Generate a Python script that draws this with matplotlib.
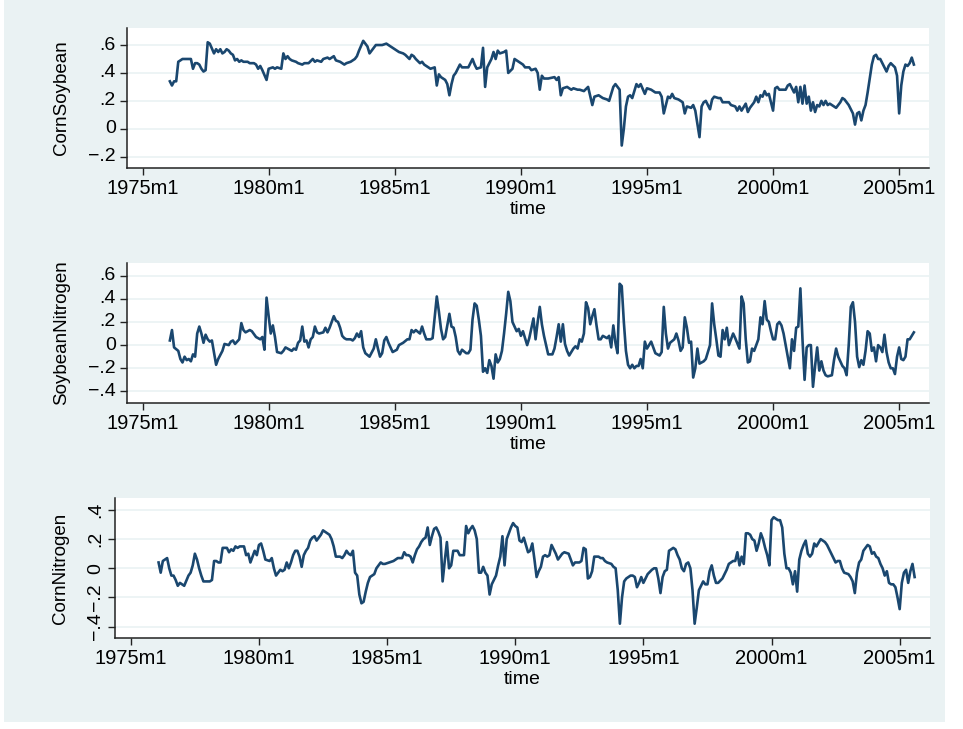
import matplotlib
matplotlib.use("Agg")
import matplotlib.pyplot as plt
from matplotlib.patches import Rectangle

# monthly observations, time counted in months from 1975m1
cs_t = [13, 14, 15, 16, 17, 19, 21, 23, 24, 25, 26, 27, 28, 29, 30, 31, 32, 34, 35, 36, 37, 38, 39, 40,
        41, 42, 43, 44, 45, 46, 47, 48, 50, 51, 53, 54, 55, 56, 57, 59, 60, 62, 63, 64, 66, 67, 68, 69,
        70, 71, 73, 74, 76, 77, 79, 81, 82, 83, 85, 86, 88, 89, 91, 92, 94, 96, 97, 99, 101, 102, 103,
        105, 106, 107, 108, 109, 111, 112, 114, 116, 118, 120, 122, 124, 125, 127, 128, 129, 130, 132,
        133, 134, 136, 137, 139, 140, 141, 142, 144, 145, 146, 147, 148, 149, 151, 152, 154, 155, 157,
        158, 159, 161, 162, 163, 164, 165, 166, 167, 168, 169, 170, 172, 173, 174, 176, 177, 178, 180,
        181, 182, 184, 185, 187, 188, 189, 190, 191, 193, 196, 197, 198, 199, 200, 202, 204, 205, 207,
        208, 210, 212, 214, 215, 217, 219, 221, 222, 223, 224, 225, 227, 228, 229, 230, 231, 232, 233,
        235, 236, 237, 239, 240, 242, 244, 246, 247, 248, 250, 251, 252, 253, 255, 257, 258, 259, 261,
        262, 263, 265, 266, 267, 268, 270, 271, 272, 274, 275, 276, 279, 280, 282, 283, 284, 285, 287,
        288, 289, 291, 292, 293, 294, 295, 296, 297, 298, 300, 301, 302, 303, 305, 306, 307, 308, 309,
        310, 311, 312, 313, 314, 315, 316, 317, 318, 319, 320, 321, 322, 323, 324, 325, 326, 327, 328,
        330, 332, 333, 334, 336, 338, 339, 340, 341, 342, 343, 344, 345, 347, 348, 349, 350, 351, 352,
        354, 355, 356, 358, 359, 360, 361, 362, 363, 364, 365, 366, 367]
cs_v = [.34, .31, .34, .34, .48, .50, .50, .50, .43, .47, .47, .46, .43, .41, .42, .62, .61, .54, .57,
        .55, .57, .54, .55, .57, .56, .54, .53, .49, .50, .48, .49, .48, .48, .47, .47, .46, .43, .45,
        .42, .35, .43, .44, .43, .44, .43, .54, .50, .52, .50, .49, .48, .47, .46, .47, .47, .50, .48,
        .49, .48, .50, .51, .50, .52, .49, .48, .46, .47, .48, .50, .52, .56, .63, .61, .59, .54, .56,
        .60, .60, .60, .61, .59, .57, .55, .54, .53, .50, .53, .52, .50, .47, .48, .46, .44, .43, .44,
        .31, .39, .37, .35, .32, .24, .32, .38, .40, .46, .44, .44, .44, .50, .46, .43, .44, .58, .30,
        .44, .47, .50, .55, .50, .56, .54, .55, .56, .40, .43, .50, .49, .47, .46, .44, .44, .42, .43,
        .40, .28, .38, .36, .36, .37, .35, .37, .24, .29, .30, .28, .29, .28, .28, .27, .30, .17, .23,
        .24, .22, .21, .20, .25, .30, .32, .28, -.12, .00, .16, .23, .24, .22, .32, .30, .32, .25, .29,
        .28, .26, .26, .23, .11, .23, .22, .25, .22, .21, .19, .11, .16, .15, .17, .13, -.06, .16, .19,
        .20, .14, .21, .23, .22, .22, .19, .19, .17, .16, .13, .16, .13, .18, .12, .15, .19, .23, .19,
        .24, .23, .27, .24, .25, .13, .29, .30, .28, .28, .28, .31, .32, .29, .26, .30, .19, .30, .18,
        .31, .18, .23, .13, .19, .12, .17, .16, .20, .17, .20, .17, .18, .17, .15, .19, .22, .21, .17,
        .11, .03, .11, .12, .06, .13, .17, .26, .46, .52, .53, .50, .50, .47, .41, .45, .47, .44, .38,
        .11, .31, .41, .46, .45, .47, .51, .46]

sn_t = [13, 14, 15, 17, 18, 19, 20, 21, 22, 23, 24, 25, 26, 27, 28, 29, 30, 31, 32, 33, 35, 36, 38, 39,
        41, 42, 43, 44, 45, 46, 47, 48, 49, 51, 52, 54, 55, 56, 57, 58, 59, 60, 61, 62, 63, 64, 66, 67,
        68, 70, 71, 72, 73, 74, 75, 76, 77, 78, 79, 80, 81, 82, 83, 84, 86, 87, 88, 89, 90, 91, 92, 93,
        94, 95, 96, 97, 99, 100, 101, 102, 103, 104, 105, 106, 108, 110, 111, 112, 113, 114, 115, 116,
        117, 118, 119, 121, 122, 124, 126, 127, 128, 129, 130, 132, 133, 134, 135, 137, 138, 140, 141,
        142, 143, 144, 146, 147, 148, 149, 150, 151, 152, 154, 155, 156, 157, 158, 159, 160, 161, 162,
        163, 164, 165, 166, 167, 168, 169, 170, 171, 172, 173, 174, 175, 176, 178, 179, 180, 181, 182,
        183, 184, 186, 187, 188, 189, 190, 191, 192, 193, 195, 196, 197, 198, 199, 200, 201, 202, 203,
        204, 205, 206, 207, 208, 209, 210, 211, 212, 213, 214, 215, 216, 217, 218, 219, 221, 222, 223,
        224, 225, 226, 227, 228, 229, 230, 231, 232, 233, 234, 235, 236, 237, 238, 239, 240, 241, 242,
        243, 244, 245, 246, 247, 248, 249, 250, 251, 253, 254, 255, 256, 257, 258, 259, 260, 261, 262,
        263, 264, 265, 266, 267, 268, 270, 271, 272, 273, 274, 275, 276, 277, 278, 279, 280, 281, 282,
        284, 285, 286, 287, 288, 289, 290, 291, 292, 293, 294, 295, 296, 297, 298, 299, 300, 301, 302,
        303, 304, 305, 307, 308, 309, 310, 311, 312, 313, 314, 315, 316, 317, 318, 319, 320, 321, 322,
        323, 324, 325, 326, 328, 329, 330, 331, 332, 333, 334, 335, 336, 337, 338, 339, 340, 341, 342,
        343, 344, 345, 346, 347, 348, 349, 350, 351, 352, 353, 354, 355, 356, 357, 358, 359, 360, 361,
        362, 363, 364, 365, 366, 367]
sn_v = [.04, .13, -.02, -.05, -.12, -.15, -.10, -.13, -.12, -.14, -.08, -.10, .10, .16, .10, .02, .09,
        .05, .03, .04, -.17, -.12, -.05, .01, .00, .03, .04, .01, .03, .05, .19, .13, .11, .13, .12,
        .07, .06, .05, .07, -.04, .41, .25, .10, .17, .07, -.06, -.07, -.05, -.02, -.04, -.05, -.03,
        -.04, .02, .04, .16, .03, .04, -.02, .05, .07, .16, .11, .10, .11, .15, .11, .15, .20, .25,
        .21, .20, .15, .08, .06, .05, .05, .04, .06, .10, .07, .12, -.02, -.07, -.10, -.03, .05, -.03,
        -.10, -.07, .04, .07, .02, -.02, -.06, -.04, .00, .02, .05, .05, .13, .11, .13, .10, .16, .10,
        .05, .05, .06, .42, .29, .14, .05, .07, .27, .16, .15, .07, -.05, -.08, -.04, -.07, -.07, -.04,
        .22, .36, .34, .22, .08, -.23, -.20, -.24, -.13, -.18, -.29, -.08, -.15, -.12, -.05, .10, .27,
        .46, .38, .20, .12, .14, .08, .12, .06, .00, .06, .23, .05, .20, .33, .18, .08, .00, -.08, -.08,
        -.03, .07, .18, .03, .18, .01, -.05, -.09, -.06, -.03, -.01, -.03, .05, .03, .10, .37, .32, .18,
        .25, .31, .17, .05, .05, .08, .06, .08, -.02, .17, .02, -.07, .53, .51, .20, -.05, -.17, -.20,
        -.17, -.20, -.18, -.18, -.12, -.20, .03, -.03, .00, .03, -.02, -.07, -.08, -.09, -.06, .33, .10,
        -.03, .02, .05, .10, .04, -.05, -.02, .24, .15, .02, .03, -.28, -.20, -.03, -.16, -.15, -.14,
        -.12, .00, .36, .18, .05, -.09, -.10, .13, .05, .15, .00, .05, .10, .06, -.03, .42, .36, .05,
        -.15, -.14, -.03, -.05, .00, .05, .24, .18, .38, .22, .20, .12, .05, .05, .18, .20, .17, .10,
        -.10, -.20, .05, -.05, .15, .16, .49, .05, -.30, -.02, .00, .00, -.36, -.18, -.02, -.22, -.14,
        -.22, -.26, -.27, -.26, -.13, -.03, -.10, -.14, -.18, -.20, -.26, .00, .33, .37, .20, -.10,
        -.19, -.13, -.17, -.05, .12, .10, -.05, -.02, -.14, .00, -.02, -.06, .09, -.06, -.15, -.20,
        -.20, -.25, -.10, -.02, -.12, -.13, -.10, .05, .05, .08, .11]

cn_t = [13, 14, 15, 16, 17, 18, 19, 20, 21, 22, 23, 25, 27, 28, 29, 30, 31, 32, 33, 34, 36, 37, 38, 39,
        40, 41, 42, 43, 44, 45, 46, 47, 48, 49, 50, 51, 53, 54, 55, 56, 57, 58, 59, 60, 61, 62, 63, 65,
        66, 67, 68, 69, 70, 71, 72, 73, 74, 75, 76, 77, 78, 79, 80, 81, 82, 83, 84, 85, 86, 87, 88, 89,
        90, 91, 92, 93, 94, 95, 96, 97, 98, 99, 100, 101, 102, 103, 104, 105, 106, 107, 108, 109, 110,
        111, 112, 113, 114, 115, 117, 118, 119, 121, 123, 124, 125, 127, 128, 129, 130, 131, 132, 133,
        134, 135, 136, 137, 138, 139, 140, 141, 142, 143, 144, 145, 146, 147, 148, 149, 150, 151, 152,
        153, 154, 155, 156, 157, 158, 159, 160, 161, 162, 163, 164, 165, 166, 167, 168, 169, 170, 171,
        172, 173, 174, 175, 176, 177, 178, 179, 180, 181, 182, 183, 184, 185, 186, 187, 188, 189, 190,
        191, 192, 193, 194, 195, 196, 197, 198, 199, 200, 201, 202, 203, 205, 206, 207, 208, 209, 210,
        211, 212, 213, 214, 215, 216, 217, 219, 220, 221, 222, 223, 225, 226, 227, 228, 229, 230, 231,
        232, 233, 234, 235, 236, 237, 238, 239, 240, 241, 242, 244, 245, 246, 247, 248, 249, 250, 251,
        252, 253, 254, 255, 256, 257, 258, 259, 260, 261, 262, 263, 264, 265, 266, 267, 268, 269, 270,
        271, 272, 273, 274, 275, 277, 278, 279, 280, 281, 282, 283, 284, 285, 286, 287, 288, 289, 290,
        291, 292, 293, 294, 295, 296, 297, 298, 299, 300, 301, 302, 303, 304, 305, 306, 307, 308, 309,
        310, 311, 312, 313, 314, 315, 316, 317, 318, 319, 320, 321, 323, 324, 325, 326, 327, 328, 330,
        331, 332, 333, 334, 336, 337, 338, 339, 340, 341, 342, 343, 344, 345, 346, 347, 348, 349, 350,
        351, 352, 353, 354, 355, 356, 357, 358, 359, 360, 361, 362, 363, 364, 365, 366, 367]
cn_v = [.04, -.03, .05, .06, .07, .00, -.05, -.05, -.08, -.12, -.10, -.12, -.05, -.03, .02, .10, .06,
        .00, -.05, -.09, -.09, -.09, -.08, .05, .05, .04, .04, .14, .14, .14, .11, .13, .12, .15, .14,
        .15, .15, .09, .10, .04, .08, .12, .09, .16, .17, .12, .06, .05, .07, .00, -.05, -.03, -.01,
        -.02, -.01, .04, .00, .04, .09, .12, .12, .08, .01, .09, .12, .14, .19, .21, .22, .19, .21, .23,
        .26, .25, .24, .23, .20, .15, .08, .08, .08, .07, .09, .12, .10, .09, .12, -.03, -.05, -.18,
        -.24, -.23, -.16, -.10, -.06, -.05, -.04, .00, .04, .03, .03, .04, .05, .06, .07, .07, .11, .09,
        .09, .08, .04, .09, .13, .15, .18, .20, .21, .28, .16, .22, .27, .28, .25, .21, -.09, .05, .18,
        .00, .02, .12, .12, .12, .09, .09, .09, .29, .24, .27, .29, .26, .20, -.03, -.03, .01, -.03,
        -.05, -.18, -.11, -.08, -.05, .02, .08, .22, .02, .20, .24, .28, .31, .29, .28, .19, .18, .21,
        .16, .11, .12, .17, .06, -.06, -.02, .01, .08, .09, .08, .09, .16, .13, .10, .06, .08, .10, .11,
        .10, .06, .02, .04, .04, .04, .05, .14, .13, -.07, -.06, -.02, .08, .08, .07, .07, .05, .04, .03,
        .01, .00, -.15, -.38, -.20, -.09, -.07, -.06, -.05, -.05, -.06, -.13, -.10, -.06, -.10, -.07,
        -.04, -.01, .00, .00, -.07, -.17, -.06, -.02, -.01, .12, .13, .14, .13, .09, .06, .00, -.02, .03,
        .04, .00, -.15, -.38, -.27, -.15, -.12, -.09, -.11, -.11, -.02, .02, -.05, -.10, -.10, -.07,
        -.04, -.01, .03, .04, .05, .05, .11, .02, .08, .03, .24, .24, .23, .20, .19, .12, .17, .24, .20,
        .14, .09, .02, .33, .35, .34, .33, .33, .28, .10, .00, .00, -.03, -.11, -.02, -.16, .06, .12,
        .16, .19, .10, .08, .10, .17, .15, .20, .19, .18, .16, .13, .10, .04, .05, .05, .00, -.03, -.04,
        -.06, -.09, -.17, -.03, .04, .06, .12, .14, .16, .15, .10, .11, .08, .07, .03, .00, -.05, -.02,
        -.10, -.11, -.11, -.13, -.20, -.28, -.10, -.03, -.01, -.10, -.02, .03, -.06]

panels = [
    ("CornSoybean", cs_t, cs_v, [-.2, 0, .2, .4, .6], (-0.281, 0.722)),
    ("SoybeanNitrogen", sn_t, sn_v, [-.4, -.2, 0, .2, .4, .6], (-0.50, 0.709)),
    ("CornNitrogen", cn_t, cn_v, [-.4, -.2, 0, .2, .4], (-0.478, 0.482)),
]
xticks = [0, 60, 120, 180, 240, 300, 360]
xlabels = ["1975m1", "1980m1", "1985m1", "1990m1", "1995m1", "2000m1", "2005m1"]


def ylab(v):
    if v == 0:
        return "0"
    s = ("%.1f" % abs(v)).lstrip("0")
    return ("\u2212" if v < 0 else "") + s


bg = "#eaf2f3"
navy = "#1a476f"
plt.rcParams["font.family"] = ["Liberation Sans", "DejaVu Sans"]

fig = plt.figure(figsize=(9.63, 7.29), dpi=100, facecolor="white")
# graph region behind all three panels
fig.patches.append(Rectangle((4 / 963, 7 / 729), 941 / 963, 722 / 729,
                             transform=fig.transFigure, facecolor=bg, edgecolor="none", zorder=-5))

boxes = [
    [127 / 963, 1 - 168 / 729, 802 / 963, 140 / 729],
    [127 / 963, 1 - 403 / 729, 802 / 963, 140 / 729],
    [115 / 963, 1 - 638 / 729, 815 / 963, 140 / 729],
]

for i, (name, t, v, yt, ylim) in enumerate(panels):
    ax = fig.add_axes(boxes[i])
    ax.set_facecolor("white")
    ax.plot(t, v, color=navy, lw=1.9, solid_joinstyle="round")
    ax.set_xlim(-7.4, 374.2)
    ax.set_ylim(*ylim)
    ax.set_xticks(xticks)
    ax.set_xticklabels(xlabels, fontsize=14.5)
    ax.set_yticks(yt)
    rot = 90 if i == 2 else 0
    ax.set_yticklabels([ylab(y) for y in yt], fontsize=14, rotation=rot,
                       va="center")
    ax.grid(axis="y", color=bg, lw=1.2)
    ax.set_axisbelow(True)
    for s in ("top", "right"):
        ax.spines[s].set_visible(False)
    for s in ("left", "bottom"):
        ax.spines[s].set_color("#222222")
        ax.spines[s].set_linewidth(1.1)
    ax.tick_params(length=5, width=1, color="#222222", pad=3)
    ax.set_xlabel("time", fontsize=14, labelpad=2)
    ax.set_ylabel(name, fontsize=13.5, labelpad=13)

fig.savefig("out.png", dpi=100, facecolor=fig.get_facecolor())
